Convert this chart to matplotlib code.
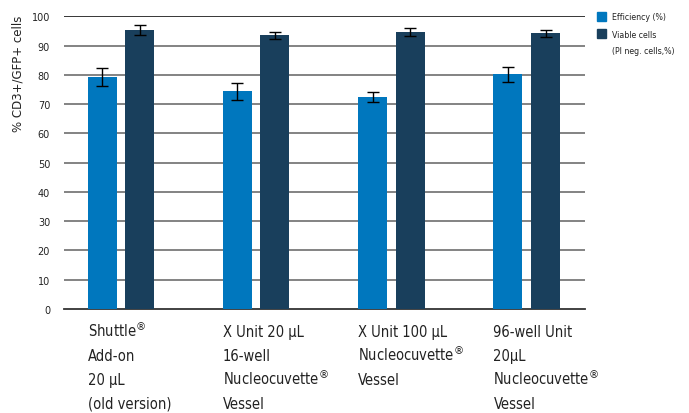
import numpy as np
import matplotlib
matplotlib.use("Agg")
import matplotlib.pyplot as plt

# values
group_lines = [
    ["Shuttle$^{\\circledR}$", "Add-on", "20 µL", "(old version)"],
    ["X Unit 20 µL", "16-well", "Nucleocuvette$^{\\circledR}$", "Vessel"],
    ["X Unit 100 µL", "Nucleocuvette$^{\\circledR}$", "Vessel"],
    ["96-well Unit", "20µL", "Nucleocuvette$^{\\circledR}$", "Vessel"],
]
efficiency = [79.3, 74.4, 72.4, 80.2]
efficiency_err = [3.2, 2.9, 1.6, 2.6]
viable = [95.4, 93.6, 94.7, 94.2]
viable_err = [1.8, 1.2, 1.3, 1.2]
yticks = list(range(0, 101, 10))

c_eff = "#0077be"
c_via = "#193f5c"

fig = plt.figure(figsize=(6.89, 4.14), dpi=100)
ax = fig.add_axes([0.0929, 0.2512, 0.756, 0.7070])

x = np.arange(len(group_lines))
w = 0.214
off = 0.139

ax.bar(x - off, efficiency, w, color=c_eff, zorder=3)
ax.bar(x + off, viable, w, color=c_via, zorder=3)
ax.errorbar(x - off, efficiency, yerr=efficiency_err, fmt="none", ecolor="black",
            elinewidth=1, capsize=4, capthick=1, zorder=4)
ax.errorbar(x + off, viable, yerr=viable_err, fmt="none", ecolor="black",
            elinewidth=1, capsize=4, capthick=1, zorder=4)

ax.set_xlim(-0.42, 3.43)
ax.set_ylim(0, 100)
ax.set_yticks(yticks)
ax.set_yticklabels([str(t) for t in yticks], fontsize=7, color="#222222")
ax.tick_params(axis="y", length=0, pad=10)
ax.set_xticks([])
for t in yticks[1:]:
    ax.axhline(t, color="#7a7a7a", lw=1.3, zorder=1)
ax.axhline(100, color="#333333", lw=1.3, zorder=1)

for s in ["top", "right", "left"]:
    ax.spines[s].set_visible(False)
ax.spines["bottom"].set_color("#333333")
ax.spines["bottom"].set_linewidth(1.3)

# multi-line category labels, one text per line so spacing stays even
lab = dict(ha="left", va="baseline", fontsize=10.5, family="DejaVu Sans",
           stretch="condensed", color="#222222")
for i, lines in enumerate(group_lines):
    x_left = ax.transData.transform((i - off - w / 2, 0))[0] / 689
    for j, line in enumerate(lines):
        fig.text(x_left, 1 - (337 + 24 * j) / 414, line, **lab)

fig.text(18 / 689, 1 - 74 / 414, "% CD3+/GFP+ cells", rotation=90,
         ha="center", va="center", fontsize=8.5, color="#222222")

# legend
fig.patches.append(plt.Rectangle((597 / 689, 1 - 22 / 414), 9 / 689, 9 / 414,
                                 transform=fig.transFigure, color=c_eff))
fig.patches.append(plt.Rectangle((597 / 689, 1 - 39 / 414), 9 / 689, 9 / 414,
                                 transform=fig.transFigure, color=c_via))
leg = dict(ha="left", va="center", fontsize=6.3, family="DejaVu Sans",
           stretch="condensed", color="#222222")
fig.text(612 / 689, 1 - 18 / 414, "Efficiency (%)", **leg)
fig.text(612 / 689, 1 - 35 / 414, "Viable cells", **leg)
fig.text(612 / 689, 1 - 52 / 414, "(PI neg. cells,%)", **leg)

fig.savefig("out.png", dpi=100)
